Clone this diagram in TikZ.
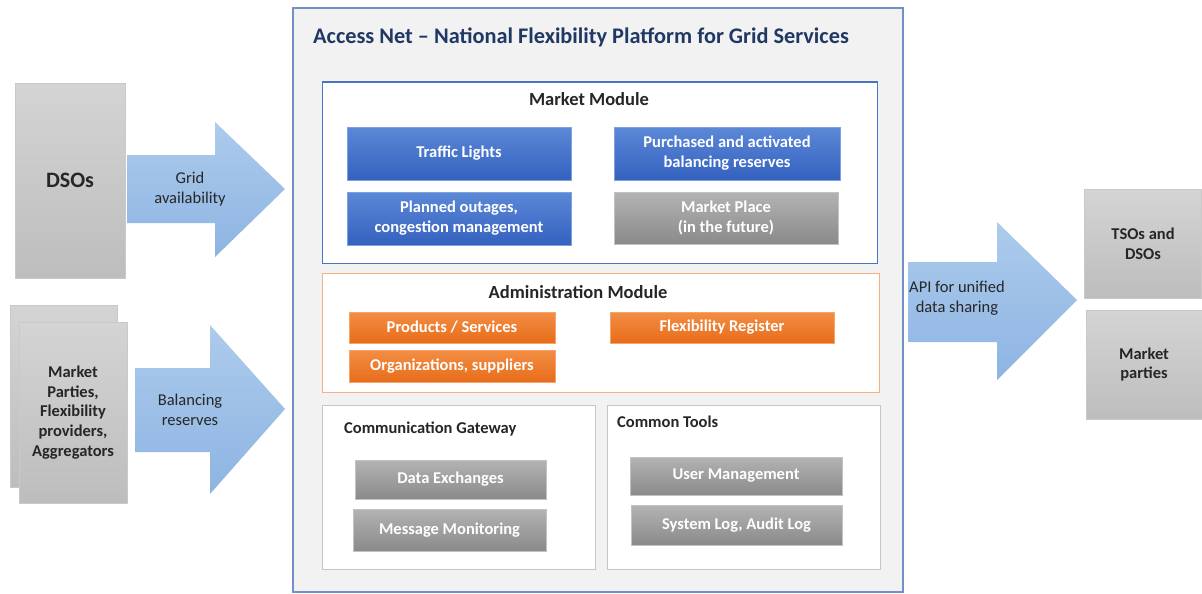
\documentclass[tikz,border=0pt]{standalone}
\usepackage{fontspec}
\setmainfont{Carlito}
\definecolor{grayA}{HTML}{D4D4D4}
\definecolor{grayB}{HTML}{BDBDBD}
\definecolor{grayE}{HTML}{C9C9C9}
\definecolor{arrA}{HTML}{ADCBEC}
\definecolor{arrB}{HTML}{8DB4E2}
\definecolor{blueA}{HTML}{5C88D7}
\definecolor{blueB}{HTML}{3461BF}
\definecolor{midA}{HTML}{B3B3B3}
\definecolor{midB}{HTML}{8A8A8A}
\definecolor{orA}{HTML}{F28E44}
\definecolor{orB}{HTML}{E86C1A}
\definecolor{mainbg}{HTML}{F2F2F2}
\definecolor{mainborder}{HTML}{7390C4}
\definecolor{mmborder}{HTML}{4A74C6}
\definecolor{amborder}{HTML}{F4B183}
\definecolor{titlecol}{HTML}{203864}
\definecolor{txt}{HTML}{262626}
\begin{document}
\begin{tikzpicture}[x=1pt,y=-1pt,
  outerbox/.style={draw=grayE, line width=0.8pt, top color=grayA, bottom color=grayB, text=txt,
    font=\bfseries\fontsize{16.5}{19.8}\selectfont, align=center, inner sep=0pt},
  bigarrow/.style={top color=arrA, bottom color=arrB, draw=none},
  arrowtext/.style={text=txt, font=\fontsize{16.5}{19.5}\selectfont, align=center, inner sep=0pt},
  bluebox/.style={draw=blueA!80!white, top color=blueA, bottom color=blueB, text=white,
    font=\bfseries\fontsize{16.5}{20}\selectfont, align=center, inner sep=0pt},
  graybox/.style={draw=midA!80!white, top color=midA, bottom color=midB, text=white,
    font=\bfseries\fontsize{16.5}{20}\selectfont, align=center, inner sep=0pt},
  orangebox/.style={draw=orA!80!white, top color=orA, bottom color=orB, text=white,
    font=\bfseries\fontsize{16.5}{20}\selectfont, align=center, inner sep=0pt},
  modtitle/.style={text=txt, font=\bfseries\fontsize{18.5}{22}\selectfont, inner sep=0pt},
  subtitle/.style={text=txt, font=\bfseries\fontsize{16.5}{20}\selectfont, inner sep=0pt, anchor=west},
  panel/.style={draw=#1, fill=white, line width=1pt}
]
\useasboundingbox[fill=white] (0,0) rectangle (1202,594);

% left side
\node[outerbox, minimum width=110pt, minimum height=195pt, font=\bfseries\fontsize{22}{26}\selectfont] (dsos) at (70,180.5) {DSOs};
\node[outerbox, minimum width=107pt, minimum height=182pt] (mpback) at (63.5,396) {};
\node[outerbox, minimum width=108pt, minimum height=181pt] (mp) at (73,412.5) {Market\\Parties,\\Flexibility\\providers,\\Aggregators};

\path[bigarrow] (127,155) -- (215,155) -- (215,122) -- (285,189) -- (215,257) -- (215,223) -- (127,223) -- cycle;
\node[arrowtext] (grid) at (190,189) {Grid\\availability};
\path[bigarrow] (135,368) -- (210,368) -- (210,325) -- (285,409) -- (210,494) -- (210,452) -- (135,452) -- cycle;
\node[arrowtext] (bal) at (190,410) {Balancing\\reserves};

% main platform
\draw[draw=mainborder, fill=mainbg, line width=1.2pt] (293,8) rectangle (903,592);
\node[anchor=west, text=titlecol, font=\bfseries\fontsize{22.3}{26}\selectfont, inner sep=0pt] (title) at (313,37) {Access Net -- National Flexibility Platform for Grid Services};

% market module
\draw[panel=mmborder] (322,82) rectangle (877,263);
\node[modtitle] (mmt) at (589,99) {Market Module};
\node[bluebox, minimum width=224pt, minimum height=53pt] (tl) at (459,153.5) {Traffic Lights};
\node[bluebox, minimum width=224pt, minimum height=53pt] (po) at (459,218.5) {Planned outages,\\congestion management};
\node[bluebox, minimum width=226pt, minimum height=53pt] (pa) at (727,153.5) {Purchased and activated\\balancing reserves};
\node[graybox, minimum width=224pt, minimum height=52pt] (mpl) at (726,218) {Market Place\\(in the future)};

% administration module
\draw[panel=amborder] (322,273) rectangle (879,392);
\node[modtitle] (amt) at (578,292) {Administration Module};
\node[orangebox, minimum width=206pt, minimum height=31pt] (ps) at (452,327.5) {Products / Services};
\node[orangebox, minimum width=206pt, minimum height=32pt] (org) at (452,366) {Organizations, suppliers};
\node[orangebox, minimum width=224pt, minimum height=31pt] (fr) at (722,327.5) {Flexibility Register};

% communication gateway
\draw[panel=gray!45] (322,405) rectangle (595,569);
\node[subtitle] (cgt) at (344,429) {Communication Gateway};
\node[graybox, minimum width=191pt, minimum height=39pt] (de) at (450.5,479.5) {Data Exchanges};
\node[graybox, minimum width=193pt, minimum height=42pt] (mm) at (449.5,530) {Message Monitoring};

% common tools
\draw[panel=gray!45] (607,405) rectangle (880,569);
\node[subtitle] (ctt) at (617,422) {Common Tools};
\node[graybox, minimum width=212pt, minimum height=38pt] (um) at (736,476) {User Management};
\node[graybox, minimum width=211pt, minimum height=40pt] (sl) at (736.5,525) {System Log, Audit Log};

% right side
\path[bigarrow] (908,262) -- (997,262) -- (997,222) -- (1077,300) -- (997,380) -- (997,342) -- (908,342) -- cycle;
\node[arrowtext] (api) at (957,298) {API for unified\\data sharing};
\node[outerbox, minimum width=117pt, minimum height=109pt] (tso) at (1143,243.5) {TSOs and\\DSOs};
\node[outerbox, minimum width=116pt, minimum height=109pt] (mkp) at (1144,364.5) {Market\\parties};
\end{tikzpicture}
\end{document}
